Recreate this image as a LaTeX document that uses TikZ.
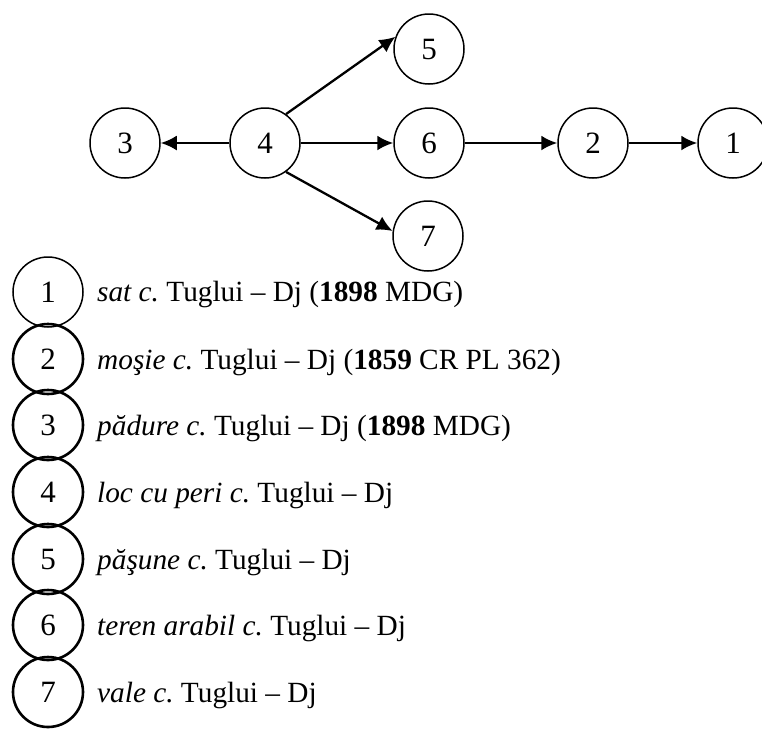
\documentclass[tikz,border=0pt]{standalone}
\usepackage{fontspec}
\setmainfont{Liberation Serif}
\usetikzlibrary{arrows.meta}
\tikzset{>={Latex[length=16pt,width=15pt]}}

\begin{document}
\frenchspacing
\begin{tikzpicture}[x=1pt,y=-1pt,
    vertex/.style={draw,circle,line width=1.5pt,minimum size=70pt,inner sep=0pt,font=\fontsize{31}{36}\selectfont},
    keyc/.style={vertex,line width=2.6pt},
    entry/.style={anchor=base west,inner sep=0pt,font=\fontsize{29.3}{35}\selectfont},
    link/.style={->,line width=2.3pt}]
    \useasboundingbox (0,0) rectangle (762,729);
    % the graph
    \node[vertex] (n3) at (125,143) {3};
    \node[vertex] (n4) at (265,143) {4};
    \node[vertex] (n5) at (429,49) {5};
    \node[vertex] (n6) at (429,143) {6};
    \node[vertex] (n7) at (428,236) {7};
    \node[vertex] (n2) at (593,143) {2};
    \node[vertex] (n1) at (733,143) {1};
    \draw[link] (n4) -- (n3);
    \draw[link] (n4.54) -- (n5.160);
    \draw[link] (n4) -- (n6);
    \draw[link] (n4.-54) -- (n7.172);
    \draw[link] (n6) -- (n2);
    \draw[link] (n2) -- (n1);
    % the key
    \node[vertex] (k1) at (48,292) {1};
    \node[keyc] (k2) at (48,359) {2};
    \node[keyc] (k3) at (48,425) {3};
    \node[keyc] (k4) at (48,492) {4};
    \node[keyc] (k5) at (48,559) {5};
    \node[keyc] (k6) at (48,625) {6};
    \node[keyc] (k7) at (48,692) {7};
    \node[entry] (t1) at (97,301) {\textit{sat c.} Tuglui -- Dj (\textbf{1898} MDG)};
    \node[entry] (t2) at (97,369) {\textit{moşie c.} Tuglui -- Dj (\textbf{1859} CR PL 362)};
    \node[entry] (t3) at (97,435) {\textit{pădure c.} Tuglui -- Dj (\textbf{1898} MDG)};
    \node[entry] (t4) at (97,502) {\textit{loc cu peri c.} Tuglui -- Dj};
    \node[entry] (t5) at (97,569) {\textit{păşune c.} Tuglui -- Dj};
    \node[entry] (t6) at (97,635) {\textit{teren arabil c.} Tuglui -- Dj};
    \node[entry] (t7) at (97,702) {\textit{vale c.} Tuglui -- Dj};
\end{tikzpicture}
\end{document}
